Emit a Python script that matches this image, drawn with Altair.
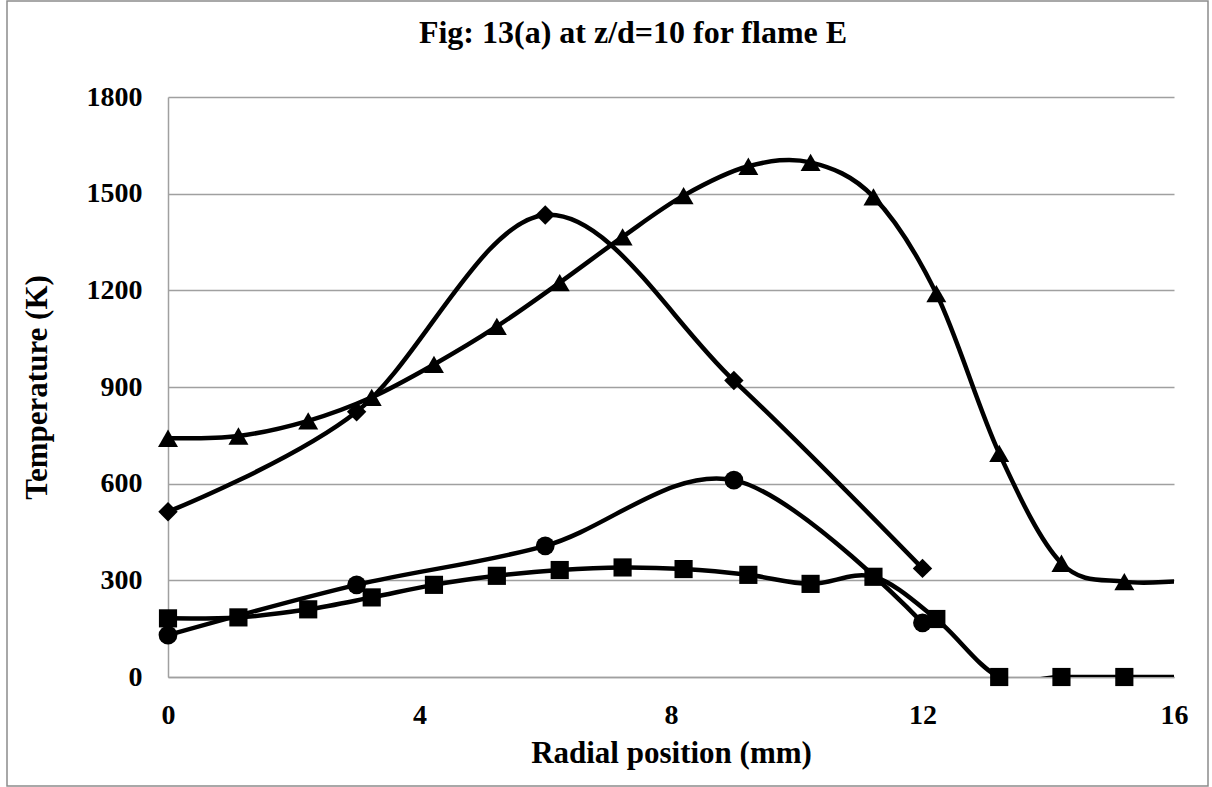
import altair as alt
import pandas as pd

# ---- data ----
x_dense = [0, 1.12, 2.23, 3.24, 4.23, 5.23, 6.23, 7.23, 8.2, 9.23, 10.22, 11.22, 12.22, 13.22, 14.21, 15.21, 16.21]
triangle_y = [741, 748, 795, 868, 970, 1088, 1224, 1366, 1494, 1585, 1597, 1490, 1190, 694, 353, 296, 300]
square_y = [182, 185, 210, 247, 286, 314, 332, 340, 335, 317, 289, 311, 180, 0, 0, 0, 0]
x_sparse = [0, 3, 6, 9, 12]
diamond_y = [513, 823, 1434, 920, 337]
circle_y = [130, 286, 407, 611, 168]

series_names = ["Triangle", "Diamond", "Circle", "Square"]
shapes = ["triangle-up", "diamond", "circle", "square"]
sizes = [400, 330, 314, 420]

x_ticks = [0, 4, 8, 12, 16]
y_ticks = [0, 300, 600, 900, 1200, 1500, 1800]

title_text = "Fig: 13(a) at z/d=10 for flame E"
x_title = "Radial position (mm)"
y_title = "Temperature (K)"

rows = []
for xv, yv in zip(x_dense, triangle_y):
    rows.append({"series": "Triangle", "r": xv, "T": yv})
for xv, yv in zip(x_sparse, diamond_y):
    rows.append({"series": "Diamond", "r": xv, "T": yv})
for xv, yv in zip(x_sparse, circle_y):
    rows.append({"series": "Circle", "r": xv, "T": yv})
for xv, yv in zip(x_dense, square_y):
    rows.append({"series": "Square", "r": xv, "T": yv})
df = pd.DataFrame(rows)

FONT = "Liberation Serif"
GRID = "#a0a0a0"

x_enc = alt.X(
    "r:Q",
    scale=alt.Scale(domain=[0, 16], nice=False, zero=False),
    axis=alt.Axis(
        values=x_ticks, format="d", grid=False, ticks=False, tickSize=0,
        labelFlush=False,
        domainColor=GRID, domainWidth=1.5,
        labelPadding=24, labelFontSize=28,
        labelFont=FONT, labelFontWeight="bold", labelColor="black",
        title=x_title, titleFont=FONT, titleFontSize=31, titleFontWeight="bold",
        titleColor="black",
        titleX=503, titleY=76, titleBaseline="middle", titleAlign="center",
    ),
)
y_enc = alt.Y(
    "T:Q",
    scale=alt.Scale(domain=[0, 1800], nice=False),
    axis=alt.Axis(
        values=y_ticks, format="d", grid=True, gridColor=GRID, gridWidth=1.5,
        ticks=False, tickSize=0, domainColor=GRID, domainWidth=1.5,
        labelFlush=False,
        labelPadding=26, labelFontSize=28,
        labelFont=FONT, labelFontWeight="bold", labelColor="black",
        title=y_title, titleFont=FONT, titleFontSize=31, titleFontWeight="bold",
        titleColor="black",
        titleX=-131, titleY=290, titleAngle=270,
        titleBaseline="middle", titleAlign="center",
    ),
)

base = alt.Chart(df)

lines = base.mark_line(
    interpolate="cardinal", color="black", strokeWidth=4.5, clip=True
).encode(x=x_enc, y=y_enc, detail="series:N")

points = base.transform_filter(alt.datum.r <= 16).mark_point(
    filled=True, color="black", opacity=1, clip=False
).encode(
    x="r:Q",
    y="T:Q",
    shape=alt.Shape("series:N", scale=alt.Scale(domain=series_names, range=shapes), legend=None),
    size=alt.Size("series:N", scale=alt.Scale(domain=series_names, range=sizes), legend=None),
)

one = pd.DataFrame({"label": [title_text]})

frame = alt.Chart(one).mark_rect(
    fill=None, stroke="#8c8c8c", strokeWidth=1.5, clip=False
).encode(
    x=alt.value(-161), x2=alt.value(1040), y=alt.value(-96), y2=alt.value(689)
)

title = alt.Chart(one).mark_text(
    font=FONT, fontSize=32, fontWeight="bold", color="black",
    align="center", baseline="alphabetic", clip=False
).encode(text="label:N", x=alt.value(465), y=alt.value(-54))

chart = alt.layer(lines, points, frame, title).properties(
    width=1006,
    height=580,
    padding={"left": 168, "top": 97, "right": 38, "bottom": 110},
    autosize=alt.AutoSizeParams(type="none"),
    background="white",
).configure_view(stroke=None)

chart.save("out.html", embed_options={"renderer": "svg", "actions": False})
